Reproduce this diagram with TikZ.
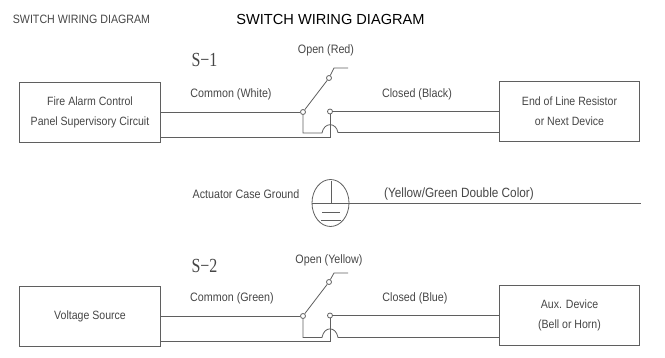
\documentclass[tikz,border=0pt]{standalone}
\usepackage{fontspec}
\setmainfont[FakeStretch=0.88]{Liberation Sans}
\newfontfamily\titlefont{Liberation Sans}
\newfontfamily\tagfont[FakeStretch=0.8]{Liberation Serif}
\usetikzlibrary{shapes,positioning}
\definecolor{wiregray}{RGB}{95,95,95}
\definecolor{textgray}{RGB}{70,70,70}
\tikzset{
  wire/.style={thick,wiregray},
  devicebox/.style={draw=wiregray,thick,minimum width=140.5pt,minimum height=60pt,align=center,
    text=textgray,font=\fontsize{12}{20}\selectfont,inner sep=0pt},
  terminal/.style={circle,draw=wiregray,fill=white,line width=0.8pt,minimum size=5pt,inner sep=0pt},
  wirelabel/.style={text=textgray,font=\fontsize{12.2}{14}\selectfont,inner sep=0pt},
  switchtag/.style={text=textgray,font=\tagfont\fontsize{20}{22}\selectfont,inner sep=0pt}
}
\begin{document}
\begin{tikzpicture}[x=1pt,y=-1pt]
\useasboundingbox (0,0) rectangle (665,358);

% Titles
\node[text=textgray,inner sep=0pt,font=\fontsize{12.1}{14}\selectfont] (titlea) at (81.5,19) {SWITCH WIRING DIAGRAM};
\node[inner sep=0pt,font=\titlefont\fontsize{14.6}{16}\selectfont] (titleb) at (330.5,19) {SWITCH WIRING DIAGRAM};

% S-1
\node[switchtag] (tagone) at (204.5,60) {S−1};
\node[devicebox] (fire) at (90,112) {Fire Alarm Control\\Panel Supervisory Circuit};
\node[devicebox] (endline) at (569.5,111.5) {End of Line Resistor\\or Next Device};
\node[wirelabel] (commonone) at (231,94) {Common (White)};
\node[wirelabel] (openone) at (326,50) {Open (Red)};
\node[wirelabel] (closedone) at (417,94) {Closed (Black)};
\node[terminal] (comone) at (303,112) {};
\node[terminal] (noone) at (330,111.5) {};
\node[terminal] (ncone) at (329,78) {};
\coordinate (firelow) at (160,137);
\coordinate (endlow) at (499,132.5);
\coordinate (jogone) at (303,133);
\coordinate (humpaone) at (322,133);
\coordinate (humpbone) at (338,132.5);
\coordinate (crossone) at (330,137);
\coordinate (kneeone) at (334,68);
\coordinate (stubone) at (348,68);
\draw[wire] (fire.east) -- (comone);
\draw[wire] (noone) -- (endline.west);
\draw[wire] (comone) -- (ncone);
\draw[wire] (ncone) -- (kneeone) -- (stubone);
\draw[wire] (comone) -- (jogone) -- (humpaone) .. controls (324,122) and (336,122) .. (humpbone) -- (endlow);
\draw[wire] (firelow) -- (crossone) -- (noone);

% Ground
\node[wirelabel] (caselabel) at (246,194) {Actuator Case Ground};
\node[wirelabel,font=\fontsize{13.4}{15}\selectfont] (colorlabel) at (459,194) {(Yellow/Green Double Color)};
\node[draw=wiregray,thick,ellipse,minimum width=37pt,minimum height=47pt,inner sep=0pt] (ground) at (330.5,203) {};
\coordinate (groundend) at (641,203);
\coordinate (groundtop) at (331,181);
\coordinate (groundmid) at (331,203);
\coordinate (barla) at (322,212);
\coordinate (barlb) at (340,212);
\coordinate (barma) at (321,220);
\coordinate (barmb) at (341,220);
\draw[wire] (ground.west) -- (groundend);
\draw[wire] (groundtop) -- (groundmid);
\draw[wire] (barla) -- (barlb);
\draw[wire] (barma) -- (barmb);

% S-2
\node[switchtag] (tagtwo) at (204.5,266) {S−2};
\node[devicebox] (source) at (90,316) {Voltage Source};
\node[devicebox] (aux) at (569.5,315.5) {Aux. Device\\(Bell or Horn)};
\node[wirelabel] (commontwo) at (232,298) {Common (Green)};
\node[wirelabel] (opentwo) at (329,260) {Open (Yellow)};
\node[wirelabel] (closedtwo) at (415,298) {Closed (Blue)};
\node[terminal] (comtwo) at (303,316) {};
\node[terminal] (notwo) at (330,315.5) {};
\node[terminal] (nctwo) at (329,282) {};
\coordinate (sourcelow) at (160,341);
\coordinate (auxlow) at (499,337.5);
\coordinate (jogtwo) at (303,337.5);
\coordinate (humpatwo) at (322,337.5);
\coordinate (humpbtwo) at (338,337.5);
\coordinate (crosstwo) at (330,341);
\coordinate (kneetwo) at (334,273);
\coordinate (stubtwo) at (348,273);
\draw[wire] (source.east) -- (comtwo);
\draw[wire] (notwo) -- (aux.west);
\draw[wire] (comtwo) -- (nctwo);
\draw[wire] (nctwo) -- (kneetwo) -- (stubtwo);
\draw[wire] (comtwo) -- (jogtwo) -- (humpatwo) .. controls (324,326) and (336,326) .. (humpbtwo) -- (auxlow);
\draw[wire] (sourcelow) -- (crosstwo) -- (notwo);
\end{tikzpicture}
\end{document}
